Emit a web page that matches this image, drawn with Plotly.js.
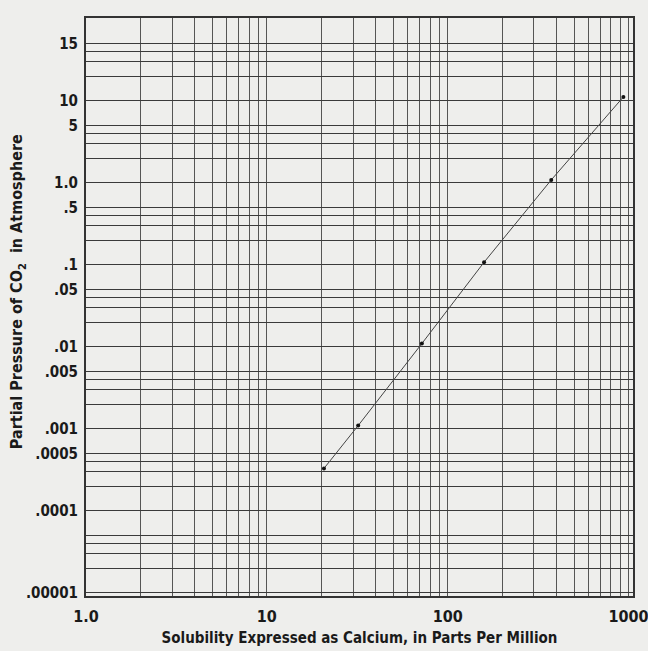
<!DOCTYPE html>
<html>
<head>
<meta charset="utf-8">
<script src="https://cdn.plot.ly/plotly-3.0.1.min.js"></script>
<style>html,body{margin:0;padding:0;background:#eeeeec;}</style>
</head>
<body>
<div id="chart" style="width:648px;height:651px;"></div>
<script>
// Data
const solubilityPpm = [20.7, 32, 72, 159, 374, 937];
const partialPressureCO2 = [0.00033, 0.0011, 0.011, 0.108, 1.09, 11.2];

// x grid (log paper: 1..9 per decade)
const xGridVals = [1,2,3,4,5,6,7,8,9,10,20,30,40,50,60,70,80,90,100,200,300,400,500,600,700,800,900,1000];
const xGridText = ['1.0','','','','','','','','','10','','','','','','','','','100','','','','','','','','','1000'];

// y grid (lines at 1,2,3,4,5 per decade)
const yGridVals = [0.00001,0.00002,0.00003,0.00004,0.00005,
  0.0001,0.0002,0.0003,0.0004,0.0005,
  0.001,0.002,0.003,0.004,0.005,
  0.01,0.02,0.03,0.04,0.05,
  0.1,0.2,0.3,0.4,0.5,
  1,2,3,4,5,
  10,20,30,40,50];
const yGridText = ['.00001','','','','',
  '.0001','','','','.0005',
  '.001','','','','.005',
  '.01','','','','.05',
  '.1','','','','.5',
  '1.0','','','','5',
  '10','','','','15'];

const xTitle = 'Solubility Expressed as Calcium, in Parts Per Million';
const yTitle = 'Partial Pressure of CO<sub>2</sub>  in Atmosphere';

const fontFam = '"Liberation Sans Narrow", "DejaVu Sans Condensed", "Open Sans", sans-serif';

const trace = {
  x: solubilityPpm,
  y: partialPressureCO2,
  type: 'scatter',
  mode: 'lines+markers',
  line: {color: '#444', width: 1},
  marker: {color: '#111', size: 4},
  hoverinfo: 'none'
};

const layout = {
  width: 648, height: 651,
  margin: {l: 86, r: 15, t: 18, b: 55},
  paper_bgcolor: '#eeeeec',
  plot_bgcolor: '#eeeeec',
  showlegend: false,
  font: {family: fontFam, color: '#1a1a1a'},
  xaxis: {
    type: 'log',
    range: [0, 3.025],
    tickvals: xGridVals,
    ticktext: xGridText,
    ticks: '',
    showgrid: true,
    gridcolor: '#555555',
    gridwidth: 1,
    showline: true, mirror: true, linecolor: '#333', linewidth: 2,
    zeroline: false,
    ticklabelstandoff: 5,
    ticklabeloverflow: 'allow',
    tickfont: {family: fontFam, size: 16, color: '#1a1a1a', weight: 'bold'},
    title: {
      text: xTitle,
      font: {family: fontFam, size: 15, color: '#1a1a1a', weight: 'bold'},
      standoff: 7
    }
  },
  yaxis: {
    type: 'log',
    range: [-5.037, 2.012],
    tickvals: yGridVals,
    ticktext: yGridText,
    ticks: '',
    showgrid: true,
    gridcolor: '#3a3a3a',
    gridwidth: 1,
    showline: true, mirror: true, linecolor: '#333', linewidth: 2,
    zeroline: false,
    ticklabelstandoff: 3,
    ticklabeloverflow: 'allow',
    tickfont: {family: fontFam, size: 15, color: '#1a1a1a', weight: 'bold'},
    title: {text: ''}
  },
  annotations: [{
    text: yTitle,
    xref: 'paper', yref: 'paper',
    x: -0.124, y: 0.526,
    xanchor: 'center', yanchor: 'middle',
    textangle: -90,
    showarrow: false,
    font: {family: fontFam, size: 16, color: '#1a1a1a', weight: 'bold'}
  }]
};

Plotly.newPlot('chart', [trace], layout, {displayModeBar: false, staticPlot: true});
</script>
</body>
</html>
